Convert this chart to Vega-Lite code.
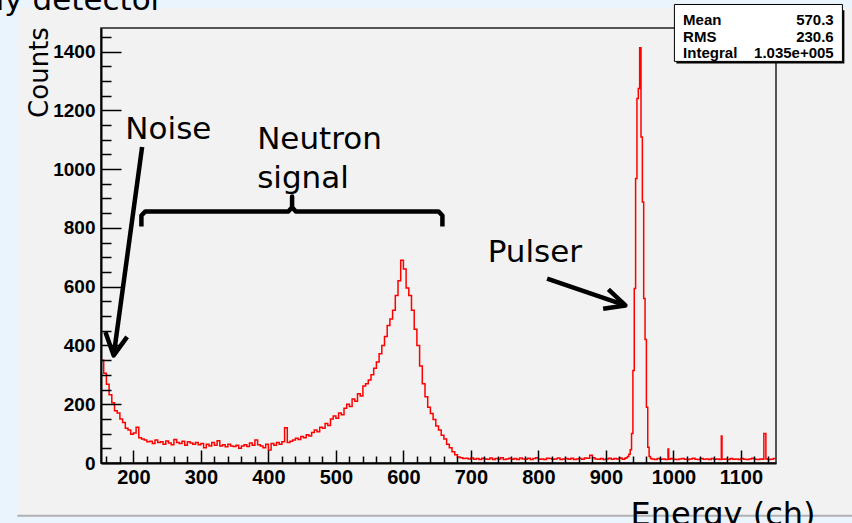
{
  "$schema": "https://vega.github.io/schema/vega-lite/v6.json",
  "width": 675,
  "height": 435,
  "autosize": "none",
  "padding": {"left": 101, "top": 28, "right": 76, "bottom": 60},
  "background": "#f2f2f2",
  "view": {"stroke": "#222222", "strokeWidth": 1.5, "fill": null},
  "resolve": {"axis": {"x": "independent", "y": "independent"}},
  "datasets": {
    "shapes": [
      {"s": "brace", "i": 1, "ch": 211.85, "n": 805},
      {"s": "brace", "i": 2, "ch": 211.85, "n": 842},
      {"s": "brace", "i": 3, "ch": 217.8, "n": 856},
      {"s": "brace", "i": 4, "ch": 429.6, "n": 856},
      {"s": "brace", "i": 5, "ch": 435.1, "n": 870},
      {"s": "brace", "i": 6, "ch": 435.1, "n": 907},
      {"s": "brace", "i": 7, "ch": 435.1, "n": 870},
      {"s": "brace", "i": 8, "ch": 440.6, "n": 856},
      {"s": "brace", "i": 9, "ch": 651.9, "n": 856},
      {"s": "brace", "i": 10, "ch": 657.8, "n": 842},
      {"s": "brace", "i": 11, "ch": 657.8, "n": 805},
      {"s": "noiseShaft", "i": 1, "ch": 212.9, "n": 1075},
      {"s": "noiseShaft", "i": 2, "ch": 170.8, "n": 366},
      {"s": "noiseHead", "i": 1, "ch": 158.5, "n": 446},
      {"s": "noiseHead", "i": 2, "ch": 170.8, "n": 366},
      {"s": "noiseHead", "i": 3, "ch": 190.7, "n": 429},
      {"s": "pulserShaft", "i": 1, "ch": 812.9, "n": 627},
      {"s": "pulserShaft", "i": 2, "ch": 928.9, "n": 536},
      {"s": "pulserHead", "i": 1, "ch": 903.7, "n": 591},
      {"s": "pulserHead", "i": 2, "ch": 928.9, "n": 536},
      {"s": "pulserHead", "i": 3, "ch": 895.9, "n": 525}
    ]
  },
  "data": {
    "values": [
      {"ch": 152, "n": 350}, {"ch": 156, "n": 305}, {"ch": 160, "n": 268}, {"ch": 164, "n": 232},
      {"ch": 168, "n": 205}, {"ch": 172, "n": 178}, {"ch": 176, "n": 170}, {"ch": 180, "n": 150},
      {"ch": 184, "n": 138}, {"ch": 188, "n": 118}, {"ch": 192, "n": 112}, {"ch": 196, "n": 98},
      {"ch": 200, "n": 102}, {"ch": 204, "n": 122}, {"ch": 208, "n": 86}, {"ch": 212, "n": 82},
      {"ch": 216, "n": 78}, {"ch": 220, "n": 72}, {"ch": 224, "n": 74}, {"ch": 228, "n": 66},
      {"ch": 232, "n": 78}, {"ch": 236, "n": 70}, {"ch": 240, "n": 72}, {"ch": 244, "n": 64},
      {"ch": 248, "n": 75}, {"ch": 252, "n": 68}, {"ch": 256, "n": 62}, {"ch": 260, "n": 80},
      {"ch": 264, "n": 70}, {"ch": 268, "n": 66}, {"ch": 272, "n": 74}, {"ch": 276, "n": 60},
      {"ch": 280, "n": 72}, {"ch": 284, "n": 68}, {"ch": 288, "n": 64}, {"ch": 292, "n": 70},
      {"ch": 296, "n": 62}, {"ch": 300, "n": 66}, {"ch": 304, "n": 52}, {"ch": 308, "n": 64},
      {"ch": 312, "n": 58}, {"ch": 316, "n": 70}, {"ch": 320, "n": 60}, {"ch": 324, "n": 76},
      {"ch": 328, "n": 58}, {"ch": 332, "n": 62}, {"ch": 336, "n": 55}, {"ch": 340, "n": 64},
      {"ch": 344, "n": 58}, {"ch": 348, "n": 56}, {"ch": 352, "n": 60}, {"ch": 356, "n": 50},
      {"ch": 360, "n": 58}, {"ch": 364, "n": 62}, {"ch": 368, "n": 56}, {"ch": 372, "n": 68},
      {"ch": 376, "n": 60}, {"ch": 380, "n": 78}, {"ch": 384, "n": 62}, {"ch": 388, "n": 58},
      {"ch": 392, "n": 52}, {"ch": 396, "n": 64}, {"ch": 400, "n": 44}, {"ch": 404, "n": 66},
      {"ch": 408, "n": 60}, {"ch": 412, "n": 70}, {"ch": 416, "n": 64}, {"ch": 420, "n": 72},
      {"ch": 424, "n": 120}, {"ch": 428, "n": 70}, {"ch": 432, "n": 74}, {"ch": 436, "n": 78},
      {"ch": 440, "n": 84}, {"ch": 444, "n": 80}, {"ch": 448, "n": 90}, {"ch": 452, "n": 86},
      {"ch": 456, "n": 96}, {"ch": 460, "n": 92}, {"ch": 464, "n": 104}, {"ch": 468, "n": 112},
      {"ch": 472, "n": 106}, {"ch": 476, "n": 122}, {"ch": 480, "n": 118}, {"ch": 484, "n": 134},
      {"ch": 488, "n": 128}, {"ch": 492, "n": 150}, {"ch": 496, "n": 160}, {"ch": 500, "n": 152},
      {"ch": 504, "n": 170}, {"ch": 508, "n": 164}, {"ch": 512, "n": 186}, {"ch": 516, "n": 200},
      {"ch": 520, "n": 192}, {"ch": 524, "n": 218}, {"ch": 528, "n": 210}, {"ch": 532, "n": 236},
      {"ch": 536, "n": 228}, {"ch": 540, "n": 262}, {"ch": 544, "n": 270}, {"ch": 548, "n": 282},
      {"ch": 552, "n": 300}, {"ch": 556, "n": 322}, {"ch": 560, "n": 344}, {"ch": 564, "n": 372},
      {"ch": 568, "n": 400}, {"ch": 572, "n": 430}, {"ch": 576, "n": 468}, {"ch": 580, "n": 490},
      {"ch": 584, "n": 520}, {"ch": 588, "n": 570}, {"ch": 592, "n": 620}, {"ch": 596, "n": 690},
      {"ch": 600, "n": 660}, {"ch": 604, "n": 595}, {"ch": 608, "n": 570}, {"ch": 612, "n": 520},
      {"ch": 616, "n": 455}, {"ch": 620, "n": 400}, {"ch": 624, "n": 330}, {"ch": 628, "n": 270},
      {"ch": 632, "n": 225}, {"ch": 636, "n": 190}, {"ch": 640, "n": 168}, {"ch": 644, "n": 148},
      {"ch": 648, "n": 126}, {"ch": 652, "n": 112}, {"ch": 656, "n": 94}, {"ch": 660, "n": 82},
      {"ch": 664, "n": 64}, {"ch": 668, "n": 52}, {"ch": 672, "n": 38}, {"ch": 676, "n": 28},
      {"ch": 680, "n": 20}, {"ch": 684, "n": 18}, {"ch": 688, "n": 15}, {"ch": 692, "n": 16},
      {"ch": 696, "n": 14}, {"ch": 700, "n": 17}, {"ch": 704, "n": 13}, {"ch": 708, "n": 15},
      {"ch": 712, "n": 12}, {"ch": 716, "n": 16}, {"ch": 720, "n": 14}, {"ch": 724, "n": 13},
      {"ch": 728, "n": 17}, {"ch": 732, "n": 12}, {"ch": 736, "n": 15}, {"ch": 740, "n": 14},
      {"ch": 744, "n": 18}, {"ch": 748, "n": 12}, {"ch": 752, "n": 14}, {"ch": 756, "n": 16},
      {"ch": 760, "n": 13}, {"ch": 764, "n": 15}, {"ch": 768, "n": 12}, {"ch": 772, "n": 17},
      {"ch": 776, "n": 14}, {"ch": 780, "n": 13}, {"ch": 784, "n": 16}, {"ch": 788, "n": 12},
      {"ch": 792, "n": 15}, {"ch": 796, "n": 18}, {"ch": 800, "n": 13}, {"ch": 804, "n": 14},
      {"ch": 808, "n": 12}, {"ch": 812, "n": 16}, {"ch": 816, "n": 15}, {"ch": 820, "n": 13},
      {"ch": 824, "n": 14}, {"ch": 828, "n": 17}, {"ch": 832, "n": 12}, {"ch": 836, "n": 14},
      {"ch": 840, "n": 15}, {"ch": 844, "n": 13}, {"ch": 848, "n": 16}, {"ch": 852, "n": 12},
      {"ch": 856, "n": 14}, {"ch": 860, "n": 15}, {"ch": 864, "n": 13}, {"ch": 868, "n": 17},
      {"ch": 872, "n": 16}, {"ch": 876, "n": 26}, {"ch": 880, "n": 18}, {"ch": 884, "n": 14},
      {"ch": 888, "n": 13}, {"ch": 892, "n": 15}, {"ch": 896, "n": 12}, {"ch": 900, "n": 14},
      {"ch": 904, "n": 16}, {"ch": 908, "n": 13}, {"ch": 912, "n": 15}, {"ch": 916, "n": 14},
      {"ch": 920, "n": 17}, {"ch": 924, "n": 13}, {"ch": 928, "n": 16}, {"ch": 930, "n": 18},
      {"ch": 932, "n": 22}, {"ch": 934, "n": 30}, {"ch": 936, "n": 45}, {"ch": 938, "n": 100},
      {"ch": 940, "n": 315}, {"ch": 942, "n": 594}, {"ch": 944, "n": 968}, {"ch": 946, "n": 1240},
      {"ch": 948, "n": 1274}, {"ch": 950, "n": 1413}, {"ch": 952, "n": 1109}, {"ch": 954, "n": 888},
      {"ch": 956, "n": 560}, {"ch": 958, "n": 420}, {"ch": 960, "n": 190}, {"ch": 962, "n": 54},
      {"ch": 964, "n": 22}, {"ch": 966, "n": 15}, {"ch": 968, "n": 14}, {"ch": 972, "n": 12},
      {"ch": 976, "n": 15}, {"ch": 980, "n": 13}, {"ch": 984, "n": 14}, {"ch": 988, "n": 12},
      {"ch": 992, "n": 48}, {"ch": 993, "n": 13}, {"ch": 996, "n": 15}, {"ch": 1000, "n": 13},
      {"ch": 1004, "n": 12}, {"ch": 1008, "n": 14}, {"ch": 1012, "n": 15}, {"ch": 1016, "n": 13},
      {"ch": 1020, "n": 12}, {"ch": 1024, "n": 14}, {"ch": 1028, "n": 16}, {"ch": 1032, "n": 13},
      {"ch": 1036, "n": 12}, {"ch": 1040, "n": 15}, {"ch": 1044, "n": 13}, {"ch": 1048, "n": 14},
      {"ch": 1052, "n": 12}, {"ch": 1056, "n": 15}, {"ch": 1060, "n": 13}, {"ch": 1064, "n": 14},
      {"ch": 1068, "n": 12}, {"ch": 1071, "n": 92}, {"ch": 1072, "n": 13}, {"ch": 1076, "n": 14},
      {"ch": 1080, "n": 12}, {"ch": 1084, "n": 15}, {"ch": 1088, "n": 13}, {"ch": 1092, "n": 14},
      {"ch": 1096, "n": 12}, {"ch": 1100, "n": 15}, {"ch": 1104, "n": 13}, {"ch": 1108, "n": 12},
      {"ch": 1112, "n": 14}, {"ch": 1116, "n": 16}, {"ch": 1120, "n": 13}, {"ch": 1124, "n": 12},
      {"ch": 1128, "n": 14}, {"ch": 1132, "n": 13}, {"ch": 1134, "n": 100}, {"ch": 1137, "n": 14},
      {"ch": 1140, "n": 12}, {"ch": 1144, "n": 13}, {"ch": 1148, "n": 15}, {"ch": 1152, "n": 15}
    ]
  },
  "layer": [
    {
      "mark": {"type": "line", "interpolate": "step-after", "color": "#ff0000", "strokeWidth": 1.5},
      "encoding": {
        "x": {
          "field": "ch", "type": "quantitative",
          "scale": {"domain": [152, 1152], "nice": false, "zero": false},
          "axis": {
            "values": [160, 180, 200, 220, 240, 260, 280, 300, 320, 340, 360, 380, 400, 420, 440, 460, 480, 500, 520, 540, 560, 580, 600, 620, 640, 660, 680, 700, 720, 740, 760, 780, 800, 820, 840, 860, 880, 900, 920, 940, 960, 980, 1000, 1020, 1040, 1060, 1080, 1100, 1120, 1140],
            "format": "d",
            "labelExpr": "datum.value % 100 === 0 ? datum.label : ''",
            "labelOverlap": false,
            "labelFlush": false,
            "labelFont": "Liberation Sans",
            "labelFontWeight": "bold",
            "labelFontSize": 20,
            "labelColor": "#000000",
            "labelPadding": 17,
            "ticks": true,
            "tickSize": {"condition": {"test": "datum.value % 100 === 0", "value": -13}, "value": -7},
            "tickColor": "#000000",
            "tickWidth": 1.5,
            "domainColor": "#000000",
            "domainWidth": 2,
            "grid": false,
            "zindex": 1,
            "title": "Energy (ch)",
            "titleFont": "DejaVu Sans",
            "titleFontSize": 32,
            "titleFontWeight": "normal",
            "titleColor": "#000000",
            "titleX": 621.5,
            "titleY": 61,
            "titleAlign": "center",
            "titleBaseline": "alphabetic"
          }
        },
        "y": {
          "field": "n", "type": "quantitative",
          "scale": {"domain": [0, 1480], "nice": false, "zero": false},
          "axis": {
            "values": [0, 50, 100, 150, 200, 250, 300, 350, 400, 450, 500, 550, 600, 650, 700, 750, 800, 850, 900, 950, 1000, 1050, 1100, 1150, 1200, 1250, 1300, 1350, 1400, 1450],
            "format": "d",
            "labelExpr": "datum.value % 200 === 0 ? datum.label : ''",
            "labelOverlap": false,
            "labelFlush": false,
            "labelFont": "Liberation Sans",
            "labelFontWeight": "bold",
            "labelFontSize": 19,
            "labelColor": "#000000",
            "labelPadding": 26,
            "ticks": true,
            "tickSize": {"condition": {"test": "datum.value % 200 === 0", "value": -20}, "value": -10},
            "tickColor": "#000000",
            "tickWidth": 1.5,
            "domainColor": "#000000",
            "domainWidth": 2,
            "grid": false,
            "zindex": 1,
            "title": "Counts",
            "titleFont": "DejaVu Sans",
            "titleFontSize": 26,
            "titleFontWeight": "normal",
            "titleColor": "#000000",
            "titleAngle": 270,
            "titleX": -62,
            "titleY": 44,
            "titleAlign": "center",
            "titleBaseline": "middle"
          }
        }
      }
    },
    {
      "data": {"values": [{}]},
      "mark": {"type": "rect", "fill": "#eaf4fd"},
      "encoding": {
        "x": {"datum": -400, "type": "quantitative", "axis": null}, "x2": {"datum": 28.1},
        "y": {"datum": -800, "type": "quantitative", "axis": null}, "y2": {"datum": 2200}
      }
    },
    {
      "data": {"values": [{}]},
      "mark": {"type": "rect", "fill": "#eaf4fd"},
      "encoding": {
        "x": {"datum": -400, "type": "quantitative", "axis": null}, "x2": {"datum": 1600},
        "y": {"datum": 1546.6, "type": "quantitative", "axis": null}, "y2": {"datum": 2200}
      }
    },
    {
      "data": {"values": [{}]},
      "mark": {"type": "rect", "fill": "#eaf4fd"},
      "encoding": {
        "x": {"datum": -400, "type": "quantitative", "axis": null}, "x2": {"datum": 1600},
        "y": {"datum": -800, "type": "quantitative", "axis": null}, "y2": {"datum": -178}
      }
    },
    {
      "data": {"values": [{}]},
      "mark": {"type": "rule", "stroke": "#b0b0b0", "strokeWidth": 2},
      "encoding": {
        "x": {"datum": 28.1, "type": "quantitative", "axis": null}, "x2": {"datum": 1600},
        "y": {"datum": -179.5, "type": "quantitative", "axis": null}
      }
    },
    {
      "data": {"name": "shapes"},
      "mark": {"type": "line", "color": "#000000", "strokeWidth": 4.5, "strokeJoin": "round", "strokeCap": "butt"},
      "encoding": {
        "x": {"field": "ch", "type": "quantitative", "axis": null},
        "y": {"field": "n", "type": "quantitative", "axis": null},
        "detail": {"field": "s"},
        "order": {"field": "i"}
      }
    },
    {
      "data": {"values": [{}]},
      "mark": {"type": "text", "text": "Noise", "font": "DejaVu Sans", "fontSize": 31, "align": "left", "baseline": "alphabetic", "color": "#000000"},
      "encoding": {"x": {"datum": 188.1, "type": "quantitative", "axis": null}, "y": {"datum": 1104, "type": "quantitative", "axis": null}}
    },
    {
      "data": {"values": [{}]},
      "mark": {"type": "text", "text": "Neutron", "font": "DejaVu Sans", "fontSize": 31, "align": "left", "baseline": "alphabetic", "color": "#000000"},
      "encoding": {"x": {"datum": 383.3, "type": "quantitative", "axis": null}, "y": {"datum": 1067, "type": "quantitative", "axis": null}}
    },
    {
      "data": {"values": [{}]},
      "mark": {"type": "text", "text": "signal", "font": "DejaVu Sans", "fontSize": 31, "align": "left", "baseline": "alphabetic", "color": "#000000"},
      "encoding": {"x": {"datum": 383.3, "type": "quantitative", "axis": null}, "y": {"datum": 937, "type": "quantitative", "axis": null}}
    },
    {
      "data": {"values": [{}]},
      "mark": {"type": "text", "text": "Pulser", "font": "DejaVu Sans", "fontSize": 31, "align": "left", "baseline": "alphabetic", "color": "#000000"},
      "encoding": {"x": {"datum": 724.9, "type": "quantitative", "axis": null}, "y": {"datum": 684, "type": "quantitative", "axis": null}}
    },
    {
      "data": {"values": [{}]},
      "mark": {"type": "text", "text": "ly detector", "font": "DejaVu Sans", "fontSize": 31, "align": "right", "baseline": "alphabetic", "color": "#000000"},
      "encoding": {"x": {"datum": 244.4, "type": "quantitative", "axis": null}, "y": {"datum": 1540, "type": "quantitative", "axis": null}}
    },
    {
      "data": {"values": [{}]},
      "mark": {"type": "rect", "fill": "#000000"},
      "encoding": {
        "x": {"datum": 1004.4, "type": "quantitative", "axis": null}, "x2": {"datum": 1253.3},
        "y": {"datum": 1359.5, "type": "quantitative", "axis": null}, "y2": {"datum": 1540}
      }
    },
    {
      "data": {"values": [{}]},
      "mark": {"type": "rect", "fill": "#ffffff", "stroke": "#000000", "strokeWidth": 1},
      "encoding": {
        "x": {"datum": 1001.5, "type": "quantitative", "axis": null}, "x2": {"datum": 1250.4},
        "y": {"datum": 1366.3, "type": "quantitative", "axis": null}, "y2": {"datum": 1560}
      }
    },
    {
      "data": {"values": [{"k": "Mean", "v": "570.3"}]},
      "layer": [
        {
          "mark": {"type": "text", "font": "Liberation Sans", "fontWeight": "bold", "fontSize": 15, "align": "left", "baseline": "alphabetic", "color": "#000000"},
          "encoding": {"x": {"datum": 1014.4, "type": "quantitative", "axis": null}, "y": {"datum": 1488.8, "type": "quantitative", "axis": null}, "text": {"field": "k"}}
        },
        {
          "mark": {"type": "text", "font": "Liberation Sans", "fontWeight": "bold", "fontSize": 15, "align": "right", "baseline": "alphabetic", "color": "#000000"},
          "encoding": {"x": {"datum": 1237.5, "type": "quantitative", "axis": null}, "y": {"datum": 1488.8, "type": "quantitative", "axis": null}, "text": {"field": "v"}}
        }
      ]
    },
    {
      "data": {"values": [{"k": "RMS", "v": "230.6"}]},
      "layer": [
        {
          "mark": {"type": "text", "font": "Liberation Sans", "fontWeight": "bold", "fontSize": 15, "align": "left", "baseline": "alphabetic", "color": "#000000"},
          "encoding": {"x": {"datum": 1014.4, "type": "quantitative", "axis": null}, "y": {"datum": 1432.7, "type": "quantitative", "axis": null}, "text": {"field": "k"}}
        },
        {
          "mark": {"type": "text", "font": "Liberation Sans", "fontWeight": "bold", "fontSize": 15, "align": "right", "baseline": "alphabetic", "color": "#000000"},
          "encoding": {"x": {"datum": 1237.5, "type": "quantitative", "axis": null}, "y": {"datum": 1432.7, "type": "quantitative", "axis": null}, "text": {"field": "v"}}
        }
      ]
    },
    {
      "data": {"values": [{"k": "Integral", "v": "1.035e+005"}]},
      "layer": [
        {
          "mark": {"type": "text", "font": "Liberation Sans", "fontWeight": "bold", "fontSize": 15, "align": "left", "baseline": "alphabetic", "color": "#000000"},
          "encoding": {"x": {"datum": 1014.4, "type": "quantitative", "axis": null}, "y": {"datum": 1378.9, "type": "quantitative", "axis": null}, "text": {"field": "k"}}
        },
        {
          "mark": {"type": "text", "font": "Liberation Sans", "fontWeight": "bold", "fontSize": 15, "align": "right", "baseline": "alphabetic", "color": "#000000"},
          "encoding": {"x": {"datum": 1237.5, "type": "quantitative", "axis": null}, "y": {"datum": 1378.9, "type": "quantitative", "axis": null}, "text": {"field": "v"}}
        }
      ]
    }
  ]
}
